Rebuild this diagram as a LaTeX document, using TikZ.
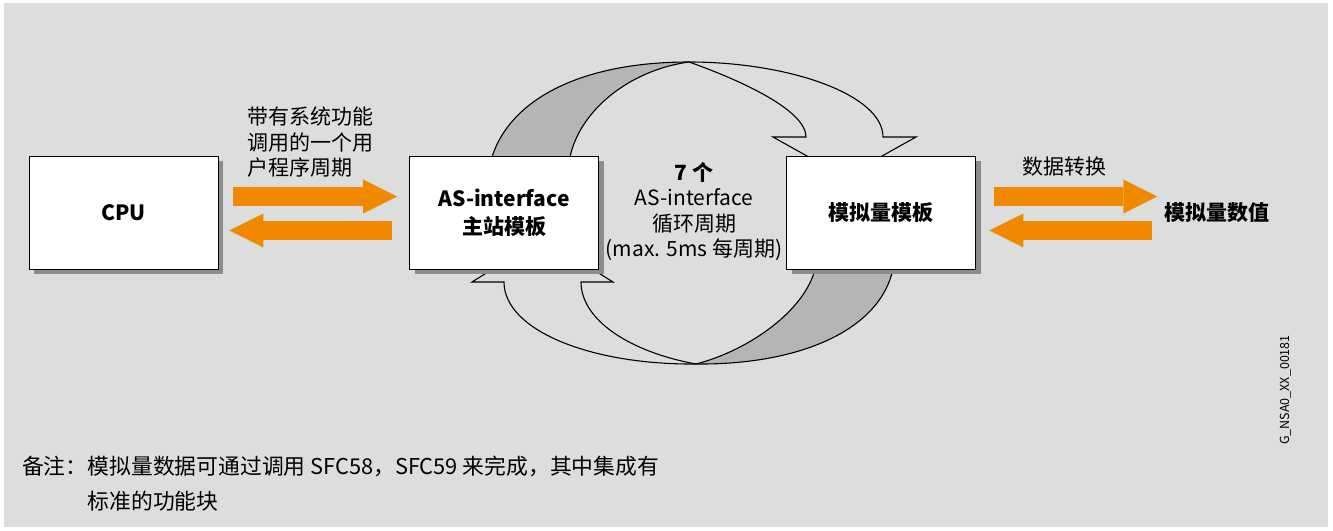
\documentclass[tikz,border=0pt]{standalone}
\usepackage{fontspec}
\setmainfont{Noto Sans CJK SC}
\usetikzlibrary{arrows.meta,shadows}
\definecolor{panelgray}{RGB}{220,222,221}
\definecolor{bandgray}{RGB}{180,181,180}
\definecolor{shadowgray}{RGB}{140,140,140}
\definecolor{sigorange}{RGB}{241,137,0}
\tikzset{
  modbox/.style={draw=black, line width=0.8pt, fill=white, inner sep=0pt,
    minimum width=189pt, minimum height=113pt, align=center,
    font=\fontsize{21}{28}\selectfont\bfseries,
    drop shadow={shadow xshift=5pt, shadow yshift=-5pt, fill=shadowgray, opacity=1}},
  fatarrow/.style={sigorange, line width=19pt,
    -{Triangle[length=34pt, width=34pt, line width=0pt]}},
  band/.style={draw=black, line width=1.1pt}
}
\begin{document}
\begin{tikzpicture}[x=1pt, y=-1pt, font=\fontsize{21}{25.5}\selectfont]
  \useasboundingbox (0,0) rectangle (1333,530);
  \fill[panelgray] (4,3) rectangle (1328,527);

  % Cycle band, upper half
  \fill[bandgray] (490.5,163) -- (492,157) .. controls (510,100) and (580,62) .. (689,62)
    .. controls (630,70) and (580,110) .. (570,157) -- (569,163) -- cycle;
  \draw[band] (490.5,163) -- (492,157) .. controls (510,100) and (580,62) .. (689,62)
    .. controls (790,62) and (883,95) .. (883,137) -- (916,137) -- (844.5,177);
  \draw[band] (569,163) -- (570,157) .. controls (580,110) and (630,70) .. (689,62)
    .. controls (740,80) and (806,110) .. (806,137) -- (773,137) -- (844.5,177);

  % Cycle band, lower half
  \fill[bandgray] (896,262) -- (893,269) .. controls (880,330) and (800,365) .. (696,364)
    .. controls (750,350) and (805,310) .. (815,269) -- (817,262) -- cycle;
  \draw[band] (896,262) -- (893,269) .. controls (880,330) and (800,365) .. (696,364)
    .. controls (590,365) and (504,330) .. (504,282) -- (472,282) -- (542.5,238);
  \draw[band] (817,262) -- (815,269) .. controls (805,310) and (750,350) .. (696,364)
    .. controls (630,352) and (581,320) .. (581,282) -- (613,282) -- (542.5,238);

  % Modules
  \node[modbox] (cpu) at (123.5,212.5) {CPU};
  \node[modbox] (master) at (504,212.5) {AS-interface\\主站模板};
  \node[modbox] (analog) at (881,212.5) {模拟量模板};
  \node[font=\fontsize{21}{25.5}\selectfont\bfseries, inner sep=0pt] (values) at (1217,213) {模拟量数值};

  % Data flow
  \draw[fatarrow] ([xshift=15pt, yshift=16pt]cpu.east) -- ([xshift=-12pt, yshift=16pt]master.west);
  \draw[fatarrow] ([xshift=-17pt, yshift=-18pt]master.west) -- ([xshift=11pt, yshift=-18pt]cpu.east);
  \draw[fatarrow] ([xshift=18.5pt, yshift=16pt]analog.east) -- ([xshift=-7pt, yshift=16.5pt]values.west);
  \draw[fatarrow] ([xshift=-12pt, yshift=-17.5pt]values.west) -- ([xshift=13.5pt, yshift=-18pt]analog.east);

  % Labels
  \node[align=left, anchor=north west, inner sep=0pt] (calltxt) at (247,107) {带有系统功能\\调用的一个用\\户程序周期};
  \node[align=center] (cycles) at (694,211.5) {\textbf{7 个}\\AS-interface\\循环周期\\(max. 5ms 每周期)};
  \node (convtxt) at (1064,167) {数据转换};
  \node[rotate=90, font=\fontsize{12.5}{15}\selectfont] (figid) at (1286,390) {G\_NSA0\_XX\_00181};

  % Note
  \node[anchor=base west, inner sep=0pt, font=\fontsize{21.8}{26}\selectfont] (note) at (22,474) {备注：模拟量数据可通过调用 SFC58，SFC59 来完成，其中集成有};
  \node[anchor=base west, inner sep=0pt, font=\fontsize{21.8}{26}\selectfont] (notecont) at (22,509) {\phantom{备注：}标准的功能块};
\end{tikzpicture}
\end{document}
